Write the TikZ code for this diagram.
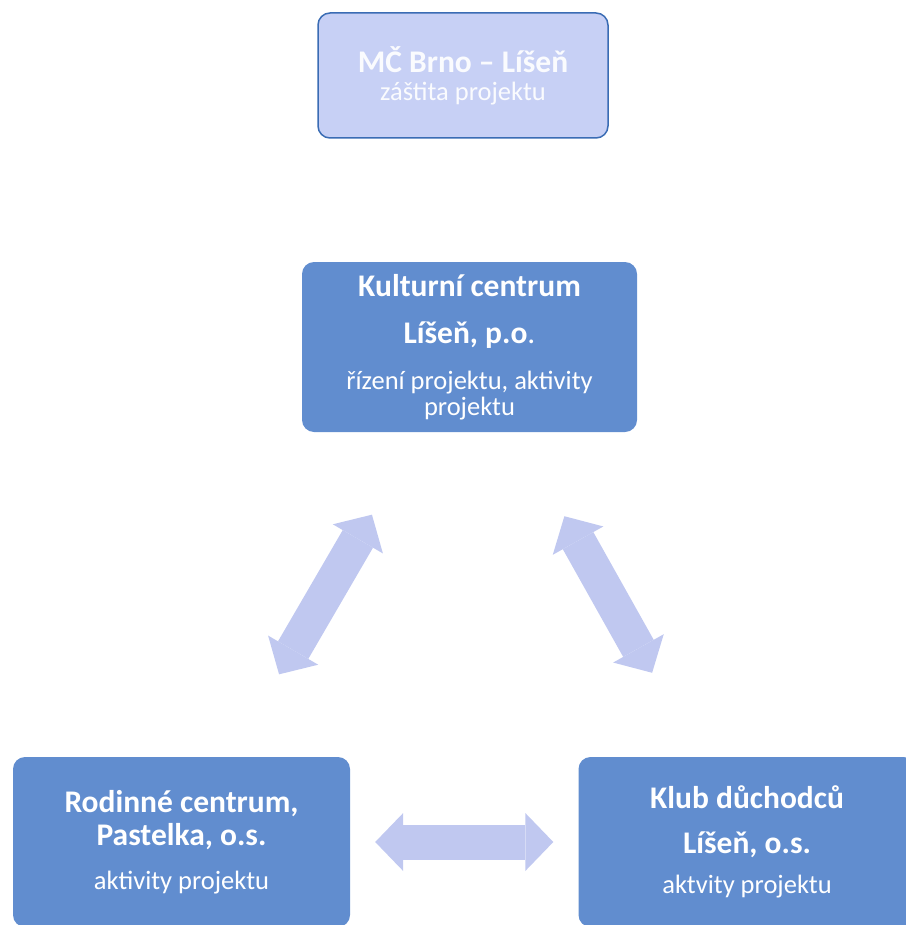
\documentclass[tikz,border=0pt]{standalone}
\usepackage{fontspec}
\setmainfont{Carlito}
\usetikzlibrary{arrows.meta}

\definecolor{boxblue}{RGB}{97,141,207}
\definecolor{paleblue}{RGB}{199,208,245}
\definecolor{edgeblue}{RGB}{58,108,180}
\definecolor{arrowblue}{RGB}{192,200,240}

\newcommand{\headfont}{\fontsize{31.5}{26}\selectfont\bfseries}
\newcommand{\notefont}{\fontsize{26.5}{26}\selectfont\mdseries}

\tikzset{
  orgbox/.style={rectangle, rounded corners=12pt, fill=boxblue, text=white,
    align=center, inner sep=0pt, minimum width=337pt, minimum height=170pt,
    font={\fontsize{31.5}{26}\selectfont\lineskiplimit=-100pt}},
  patronbox/.style={orgbox, fill=paleblue, draw=edgeblue, line width=1.5pt,
    minimum width=290pt, minimum height=125pt, text=white!92!paleblue},
  fatarrow/.style={arrowblue, line width=35pt,
    {Triangle[width=58pt,length=28pt,line width=0pt]}-{Triangle[width=58pt,length=28pt,line width=0pt]}}
}

\begin{document}
\begin{tikzpicture}[x=1pt,y=-1pt]
    \useasboundingbox (0,0) rectangle (905,925);
    % boxes
    \node[patronbox] (mc) at (463,75.5) {\headfont MČ Brno -- Líšeň\\[2pt]
        \notefont záštita projektu};
    \node[orgbox, minimum width=335pt] (kc) at (469.5,347) {\headfont Kulturní centrum\\[21pt]
        \headfont Líšeň, p.o\mdseries.\\[20pt]
        \notefont řízení projektu, aktivity\\
        \notefont projektu};
    \node[orgbox] (rc) at (181.5,842) {\headfont Rodinné centrum,\\[7pt]
        \headfont Pastelka, o.s.\\[18pt]
        \notefont aktivity projektu};
    \node[orgbox] (kd) at (747,842) {\headfont Klub důchodců\\[19pt]
        \headfont Líšeň, o.s.\\[14pt]
        \notefont aktvity projektu};
    % arrows between partners
    \draw[fatarrow, shorten <=194pt, shorten >=194pt] (kc.center) -- (rc.center);
    \draw[fatarrow, shorten <=194pt, shorten >=194pt] (kc.center) -- (kd.center);
    \draw[fatarrow, shorten <=25pt, shorten >=25pt] (rc.east) -- (kd.west);
\end{tikzpicture}
\end{document}
